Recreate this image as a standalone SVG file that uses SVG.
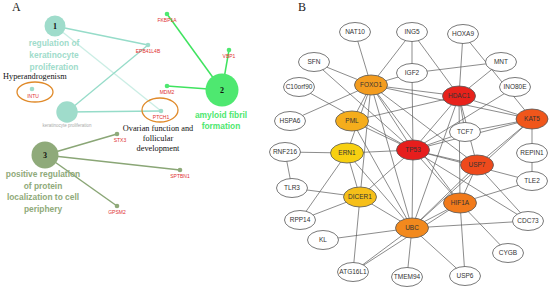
<svg xmlns="http://www.w3.org/2000/svg" width="550" height="292" viewBox="0 0 550 292">
<style>
.lbl{font-family:"Liberation Serif",serif;font-size:12px;fill:#222}
.ser{font-family:"Liberation Serif",serif;font-size:8.3px;fill:#111}
.gene{font-family:"Liberation Sans",Arial,sans-serif;font-size:5px;fill:#e03030;text-anchor:middle}
.num{font-family:"Liberation Serif",serif;font-size:8px;font-weight:bold;fill:#111;text-anchor:middle}
.tt{font-family:"Liberation Sans",Arial,sans-serif;font-size:8.4px;font-weight:bold;text-anchor:middle}
.teal{fill:#9fdccb}.green{fill:#4ee870}.olive{fill:#8faa7a}
.lt{stroke:#96dcc9;stroke-width:1.3;fill:none}
.lg{stroke:#3fe35f;stroke-width:1.5;fill:none}
.lo{stroke:#8aa676;stroke-width:1.5;fill:none}
.ring{fill:none;stroke:#e08a2a;stroke-width:1.3}
.e line{stroke:#5a5a5a;stroke-width:0.7}
.n ellipse{stroke:#555;stroke-width:0.8}
.n text{font-family:"Liberation Sans",Arial,sans-serif;font-size:6.5px;fill:#333;text-anchor:middle}
</style>
<rect width="550" height="292" fill="#fff"/>
<text class="lbl" x="12" y="11">A</text>
<text class="lbl" x="298" y="11">B</text>
<!-- panel A connectors -->
<g id="a-connectors">
<line class="lt" x1="55" y1="26" x2="148" y2="45"/>
<line class="lt" x1="55" y1="26" x2="161" y2="111" stroke-opacity="0.5"/>
<line class="lt" x1="67" y1="112" x2="148" y2="45"/>
<line class="lt" x1="67" y1="112" x2="161" y2="111"/>
<line class="lg" x1="222" y1="90" x2="167" y2="14"/>
<line class="lg" x1="222" y1="90" x2="229" y2="50"/>
<line class="lg" x1="222" y1="90" x2="167" y2="86"/>
<line class="lo" x1="45" y1="155" x2="117" y2="134"/>
<line class="lo" x1="45" y1="155" x2="180" y2="170"/>
<line class="lo" x1="45" y1="155" x2="117" y2="206"/>
</g>
<g id="a-cluster1">
<circle cx="55" cy="26" r="10.5" class="teal"/>
<text class="num" x="55" y="29">1</text>
<text class="tt teal" x="54" y="46">regulation of</text>
<text class="tt teal" x="54" y="58">keratinocyte</text>
<text class="tt teal" x="54" y="70">proliferation</text>
</g>
<g id="a-kp">
<circle cx="67" cy="112" r="10.7" class="teal"/>
<text x="67" y="127" style="font-family:'Liberation Sans',sans-serif;font-size:4.5px;fill:#aaa;text-anchor:middle">keratinocyte proliferation</text>
</g>
<g id="a-intu">
<text class="ser" x="3" y="79">Hyperandrogenism</text>
<ellipse cx="35" cy="92" rx="18" ry="10" class="ring"/>
<circle cx="32" cy="89" r="2.3" class="teal"/>
<text class="gene" x="33" y="97.5">INTU</text>
</g>
<g id="a-epb">
<circle cx="148" cy="45" r="2.3" class="teal"/>
<text class="gene" x="148" y="53">EPB41L4B</text>
</g>
<g id="a-ptch1">
<ellipse cx="160" cy="110" rx="18" ry="12" class="ring"/>
<circle cx="161" cy="111" r="2.3" class="teal"/>
<text class="gene" x="161" y="118.5">PTCH1</text>
<text class="ser" x="158" y="131" text-anchor="middle">Ovarian function and</text>
<text class="ser" x="158" y="141" text-anchor="middle">follicular</text>
<text class="ser" x="158" y="151" text-anchor="middle">development</text>
</g>
<g id="a-cluster2">
<circle cx="222" cy="90" r="16.5" class="green"/>
<text class="num" x="222" y="93">2</text>
<text class="tt" x="221" y="118" fill="#4ee870">amyloid fibril</text>
<text class="tt" x="221" y="129" fill="#4ee870">formation</text>
</g>
<g id="a-fkbp1a"><circle cx="167" cy="14" r="2.3" class="green"/><text class="gene" x="167" y="22">FKBP1A</text></g>
<g id="a-vbp1"><circle cx="229" cy="50" r="2.3" class="green"/><text class="gene" x="229" y="58">VBP1</text></g>
<g id="a-mdm2"><circle cx="167" cy="86" r="2.3" class="green"/><text class="gene" x="167" y="94">MDM2</text></g>
<g id="a-cluster3">
<circle cx="45" cy="155" r="13.5" class="olive"/>
<text class="num" x="45" y="158">3</text>
<text class="tt" x="43" y="177" fill="#8faa7a">positive regulation</text>
<text class="tt" x="43" y="189" fill="#8faa7a">of protein</text>
<text class="tt" x="43" y="200" fill="#8faa7a">localization to cell</text>
<text class="tt" x="43" y="212" fill="#8faa7a">periphery</text>
</g>
<g id="a-stx3"><circle cx="117" cy="134" r="2.3" class="olive"/><text class="gene" x="120" y="142">STX3</text></g>
<g id="a-sptbn1"><circle cx="180" cy="170" r="2.3" class="olive"/><text class="gene" x="180" y="178">SPTBN1</text></g>
<g id="a-gpsm2"><circle cx="117" cy="206" r="2.3" class="olive"/><text class="gene" x="117" y="214">GPSM2</text></g>

<!-- panel B connectors -->
<g id="connectors" class="e">
<line x1="355" y1="32" x2="371" y2="85"/>
<line x1="412" y1="32" x2="371" y2="85"/>
<line x1="412" y1="32" x2="412" y2="73"/>
<line x1="412" y1="32" x2="459" y2="96"/>
<line x1="463" y1="34" x2="459" y2="96"/>
<line x1="463" y1="34" x2="532" y2="119"/>
<line x1="314" y1="62" x2="371" y2="85"/>
<line x1="314" y1="62" x2="413" y2="150"/>
<line x1="299" y1="87" x2="413" y2="150"/>
<line x1="412" y1="73" x2="371" y2="85"/>
<line x1="412" y1="73" x2="501" y2="62"/>
<line x1="412" y1="73" x2="413" y2="150"/>
<line x1="501" y1="62" x2="459" y2="96"/>
<line x1="515" y1="87" x2="413" y2="150"/>
<line x1="290" y1="121" x2="371" y2="85"/>
<line x1="285" y1="152" x2="347" y2="153"/>
<line x1="285" y1="152" x2="292" y2="188"/>
<line x1="292" y1="188" x2="360" y2="197"/>
<line x1="300" y1="220" x2="347" y2="153"/>
<line x1="300" y1="220" x2="360" y2="197"/>
<line x1="323" y1="240" x2="412" y2="228"/>
<line x1="353" y1="272" x2="360" y2="197"/>
<line x1="353" y1="272" x2="412" y2="228"/>
<line x1="353" y1="272" x2="460" y2="203"/>
<line x1="407" y1="277" x2="412" y2="228"/>
<line x1="465" y1="276" x2="412" y2="228"/>
<line x1="465" y1="276" x2="460" y2="203"/>
<line x1="508" y1="253" x2="460" y2="203"/>
<line x1="528" y1="221" x2="412" y2="228"/>
<line x1="528" y1="221" x2="413" y2="150"/>
<line x1="528" y1="221" x2="477" y2="165"/>
<line x1="532" y1="153" x2="532" y2="119"/>
<line x1="532" y1="153" x2="532" y2="181"/>
<line x1="532" y1="181" x2="413" y2="150"/>
<line x1="532" y1="181" x2="460" y2="203"/>
<line x1="465" y1="132" x2="413" y2="150"/>
<line x1="465" y1="132" x2="459" y2="96"/>
<line x1="465" y1="132" x2="532" y2="119"/>
<line x1="371" y1="85" x2="413" y2="150"/>
<line x1="371" y1="85" x2="459" y2="96"/>
<line x1="371" y1="85" x2="477" y2="165"/>
<line x1="371" y1="85" x2="412" y2="228"/>
<line x1="371" y1="85" x2="460" y2="203"/>
<line x1="371" y1="85" x2="532" y2="119"/>
<line x1="371" y1="85" x2="352" y2="121"/>
<line x1="371" y1="85" x2="360" y2="197"/>
<line x1="371" y1="85" x2="347" y2="153"/>
<line x1="459" y1="96" x2="413" y2="150"/>
<line x1="459" y1="96" x2="532" y2="119"/>
<line x1="459" y1="96" x2="477" y2="165"/>
<line x1="459" y1="96" x2="412" y2="228"/>
<line x1="459" y1="96" x2="460" y2="203"/>
<line x1="459" y1="96" x2="352" y2="121"/>
<line x1="413" y1="150" x2="352" y2="121"/>
<line x1="413" y1="150" x2="532" y2="119"/>
<line x1="413" y1="150" x2="477" y2="165"/>
<line x1="413" y1="150" x2="412" y2="228"/>
<line x1="413" y1="150" x2="460" y2="203"/>
<line x1="413" y1="150" x2="347" y2="153"/>
<line x1="413" y1="150" x2="360" y2="197"/>
<line x1="412" y1="228" x2="477" y2="165"/>
<line x1="412" y1="228" x2="460" y2="203"/>
<line x1="412" y1="228" x2="360" y2="197"/>
<line x1="412" y1="228" x2="347" y2="153"/>
<line x1="412" y1="228" x2="532" y2="119"/>
<line x1="412" y1="228" x2="352" y2="121"/>
<line x1="477" y1="165" x2="460" y2="203"/>
<line x1="477" y1="165" x2="532" y2="119"/>
<line x1="347" y1="153" x2="360" y2="197"/>
</g>
<g class="n">
<g id="NAT10"><ellipse cx="355" cy="32" rx="15.5" ry="9.5" fill="#fff"/><text x="355" y="34.3">NAT10</text></g>
<g id="ING5"><ellipse cx="412" cy="32" rx="15.5" ry="9.5" fill="#fff"/><text x="412" y="34.3">ING5</text></g>
<g id="HOXA9"><ellipse cx="463" cy="34" rx="15.5" ry="9.5" fill="#fff"/><text x="463" y="36.3">HOXA9</text></g>
<g id="SFN"><ellipse cx="314" cy="62" rx="15.5" ry="9.5" fill="#fff"/><text x="314" y="64.3">SFN</text></g>
<g id="MNT"><ellipse cx="501" cy="62" rx="15.5" ry="9.5" fill="#fff"/><text x="501" y="64.3">MNT</text></g>
<g id="C10orf90"><ellipse cx="299" cy="87" rx="15.5" ry="9.5" fill="#fff"/><text x="299" y="89.3">C10orf90</text></g>
<g id="IGF2"><ellipse cx="412" cy="73" rx="15.5" ry="9.5" fill="#fff"/><text x="412" y="75.3">IGF2</text></g>
<g id="FOXO1"><ellipse cx="371" cy="85" rx="16.5" ry="10" fill="#f39c1f"/><text x="371" y="87.3">FOXO1</text></g>
<g id="HDAC1"><ellipse cx="459" cy="96" rx="16.5" ry="10" fill="#e8221b"/><text x="459" y="98.3">HDAC1</text></g>
<g id="INO80E"><ellipse cx="515" cy="87" rx="15.5" ry="9.5" fill="#fff"/><text x="515" y="89.3">INO80E</text></g>
<g id="HSPA6"><ellipse cx="290" cy="121" rx="15.5" ry="9.5" fill="#fff"/><text x="290" y="123.3">HSPA6</text></g>
<g id="PML"><ellipse cx="352" cy="121" rx="16.5" ry="10" fill="#f5ad1c"/><text x="352" y="123.3">PML</text></g>
<g id="TCF7"><ellipse cx="465" cy="132" rx="15.5" ry="9.5" fill="#fff"/><text x="465" y="134.3">TCF7</text></g>
<g id="KAT5"><ellipse cx="532" cy="119" rx="16" ry="10" fill="#f0561b"/><text x="532" y="121.3">KAT5</text></g>
<g id="TP53"><ellipse cx="413" cy="150" rx="16.5" ry="10" fill="#e61e1d"/><text x="413" y="152.3">TP53</text></g>
<g id="REPIN1"><ellipse cx="532" cy="153" rx="15.5" ry="9.5" fill="#fff"/><text x="532" y="155.3">REPIN1</text></g>
<g id="RNF216"><ellipse cx="285" cy="152" rx="15.5" ry="9.5" fill="#fff"/><text x="285" y="154.3">RNF216</text></g>
<g id="ERN1"><ellipse cx="347" cy="153" rx="16.5" ry="10" fill="#f7d011"/><text x="347" y="155.3">ERN1</text></g>
<g id="USP7"><ellipse cx="477" cy="165" rx="16.5" ry="10" fill="#ee4a1c"/><text x="477" y="167.3">USP7</text></g>
<g id="TLE2"><ellipse cx="532" cy="181" rx="15.5" ry="9.5" fill="#fff"/><text x="532" y="183.3">TLE2</text></g>
<g id="TLR3"><ellipse cx="292" cy="188" rx="15.5" ry="9.5" fill="#fff"/><text x="292" y="190.3">TLR3</text></g>
<g id="DICER1"><ellipse cx="360" cy="197" rx="16.5" ry="10" fill="#f6bf19"/><text x="360" y="199.3">DICER1</text></g>
<g id="HIF1A"><ellipse cx="460" cy="203" rx="16.5" ry="10" fill="#f17a1b"/><text x="460" y="205.3">HIF1A</text></g>
<g id="CDC73"><ellipse cx="528" cy="221" rx="15.5" ry="9.5" fill="#fff"/><text x="528" y="223.3">CDC73</text></g>
<g id="RPP14"><ellipse cx="300" cy="220" rx="15.5" ry="9.5" fill="#fff"/><text x="300" y="222.3">RPP14</text></g>
<g id="UBC"><ellipse cx="412" cy="228" rx="16.5" ry="10" fill="#f2891d"/><text x="412" y="230.3">UBC</text></g>
<g id="KL"><ellipse cx="323" cy="240" rx="15.5" ry="9.5" fill="#fff"/><text x="323" y="242.3">KL</text></g>
<g id="CYGB"><ellipse cx="508" cy="253" rx="15.5" ry="9.5" fill="#fff"/><text x="508" y="255.3">CYGB</text></g>
<g id="ATG16L1"><ellipse cx="353" cy="272" rx="15.5" ry="9.5" fill="#fff"/><text x="353" y="274.3">ATG16L1</text></g>
<g id="TMEM94"><ellipse cx="407" cy="277" rx="15.5" ry="9.5" fill="#fff"/><text x="407" y="279.3">TMEM94</text></g>
<g id="USP6"><ellipse cx="465" cy="276" rx="15.5" ry="9.5" fill="#fff"/><text x="465" y="278.3">USP6</text></g>
</g>
</svg>
